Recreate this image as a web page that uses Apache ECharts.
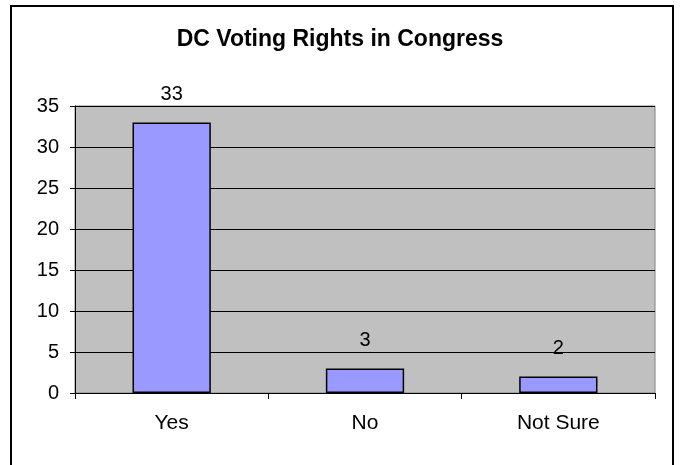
<!DOCTYPE html>
<html><head><meta charset="utf-8">
<script src="https://cdn.jsdelivr.net/npm/echarts@6/dist/echarts.min.js"></script>
<style>html,body{margin:0;padding:0;background:#fff}#c{width:680px;height:465px}</style>
</head><body><div id="c"></div>
<script>
const titleText = "DC Voting Rights in Congress";
const categories = ["Yes", "No", "Not Sure"];
const values = [33, 3, 2];
const yTicks = {min: 0, max: 35, interval: 5};

const chart = echarts.init(document.getElementById('c'), null, {renderer: 'canvas'});
const font = "'Liberation Sans', Arial, sans-serif";
chart.setOption({
  animation: false,
  backgroundColor: '#fff',
  title: {text: titleText, left: 'center', top: 23,
    textStyle: {fontFamily: font, fontSize: 23, fontWeight: 'bold', color: '#000'}},
  graphic: [{type: 'rect', shape: {x: 11, y: 6, width: 662, height: 520},
    style: {fill: 'none', stroke: '#000', lineWidth: 2}, silent: true, z: 100}],
  grid: {left: 75, right: 25, top: 106, bottom: 72, show: true,
    backgroundColor: '#c0c0c0', borderColor: '#808080', borderWidth: 1},
  xAxis: {type: 'category', data: categories, boundaryGap: true,
    axisLine: {lineStyle: {color: '#000', width: 1}},
    axisTick: {show: true, length: 6, inside: false, lineStyle: {color: '#000'}},
    axisLabel: {fontFamily: font, fontSize: 21, color: '#000', margin: 20}},
  yAxis: {type: 'value', min: yTicks.min, max: yTicks.max, interval: yTicks.interval,
    axisLine: {show: true, lineStyle: {color: '#000', width: 1}},
    axisTick: {show: true, length: 5, lineStyle: {color: '#000'}},
    splitLine: {show: true, lineStyle: {color: '#000', width: 1}},
    axisLabel: {fontFamily: font, fontSize: 20, color: '#000', margin: 16}},
  series: [{type: 'bar', data: values, barWidth: '40.5%',
    itemStyle: {color: '#9999ff', borderColor: '#000', borderWidth: 1.5},
    label: {show: true, position: 'top', distance: 18, fontFamily: font, fontSize: 20, color: '#000'}}]
});
</script></body></html>
